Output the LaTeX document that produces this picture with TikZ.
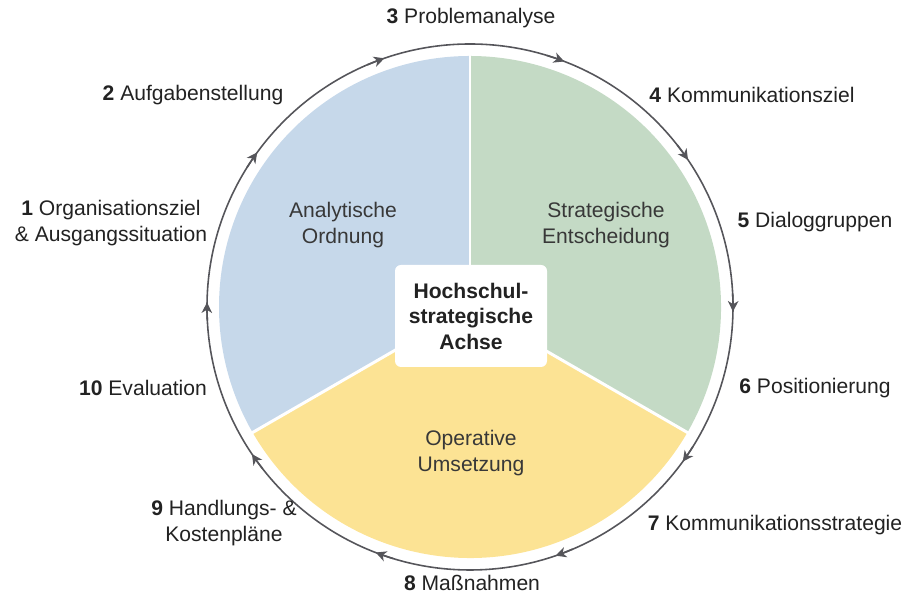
\documentclass[tikz,border=0pt]{standalone}
\usepackage{fontspec}
\setmainfont{Liberation Sans}
\usepackage{tikz}
\usetikzlibrary{arrows.meta, positioning, calc}
\definecolor{hsblue}{HTML}{C6D8EA}
\definecolor{hsgreen}{HTML}{C4DAC5}
\definecolor{hsyellow}{HTML}{FCE394}
\definecolor{hsring}{HTML}{55555A}
\definecolor{hstext}{HTML}{222222}

\begin{document}
\begin{tikzpicture}[
    sector/.style={fill=#1},
    gap/.style={draw=white, line width=1.7pt},
    ring/.style={draw=hsring, line width=0.9pt},
    ringtip/.style={hsring, line width=0.9pt, -{Stealth[length=6pt, width=6pt, inset=1.8pt]}},
    hub/.style={fill=white, rounded corners=0.12cm, minimum width=3.04cm,
                minimum height=2.04cm, align=center, text=hstext,
                font=\fontsize{12}{14.5}\selectfont\bfseries},
    part/.style={align=center, text=hstext!90, font=\fontsize{12}{14.5}\selectfont},
    stage/.style={align=center, text=hstext, font=\fontsize{12}{14.5}\selectfont},
]
    \useasboundingbox (0,0) rectangle (18.2,12.02);
    \coordinate (c) at (9.4,5.88);

    % Sectors
    \begin{scope}[shift={(c)}]
        \fill[sector=hsblue] (0,0) -- (90:5.02) arc (90:210:5.02) -- cycle;
        \fill[sector=hsyellow] (0,0) -- (210:5.02) arc (210:330:5.02) -- cycle;
        \fill[sector=hsgreen] (0,0) -- (330:5.02) arc (330:450:5.02) -- cycle;
        \draw[gap] (0,0) -- (90:5.1);
        \draw[gap] (0,0) -- (210:5.1);
        \draw[gap] (0,0) -- (330:5.1);

        % Cycle ring, running clockwise
        \draw[ring] (0,0) circle (5.26);
        \foreach \a in {0, 35, 70, 110, 145, 180, 215, 250, 290, 325}
            \draw[ringtip] (\a+3:5.26) arc (\a+3:\a-1:5.26);
    \end{scope}

    % Centre
    \node[hub] (hub) at (9.42,5.70) {Hochschul-\\strategische\\Achse};

    % Sector labels
    \node[part] (analyse) at (6.86,7.52) {Analytische\\Ordnung};
    \node[part] (strategie) at (12.12,7.52) {Strategische\\Entscheidung};
    \node[part] (operativ) at (9.42,2.96) {Operative\\Umsetzung};

    % Steps round the ring
    \node[stage] (s1) at (2.22,7.56) {\textbf{1} Organisationsziel\\\& Ausgangssituation};
    \node[stage] (s2) at (3.86,10.12) {\textbf{2} Aufgabenstellung};
    \node[stage] (s3) at (9.42,11.66) {\textbf{3} Problemanalyse};
    \node[stage] (s4) at (15.04,10.12) {\textbf{4} Kommunikationsziel};
    \node[stage] (s5) at (16.30,7.58) {\textbf{5} Dialoggruppen};
    \node[stage] (s6) at (16.30,4.26) {\textbf{6} Positionierung};
    \node[stage] (s7) at (15.50,1.52) {\textbf{7} Kommunikationsstrategie};
    \node[stage] (s8) at (9.44,0.36) {\textbf{8} Maßnahmen};
    \node[stage] (s9) at (4.48,1.56) {\textbf{9} Handlungs- \&\\Kostenpläne};
    \node[stage] (s10) at (2.86,4.26) {\textbf{10} Evaluation};
\end{tikzpicture}
\end{document}
